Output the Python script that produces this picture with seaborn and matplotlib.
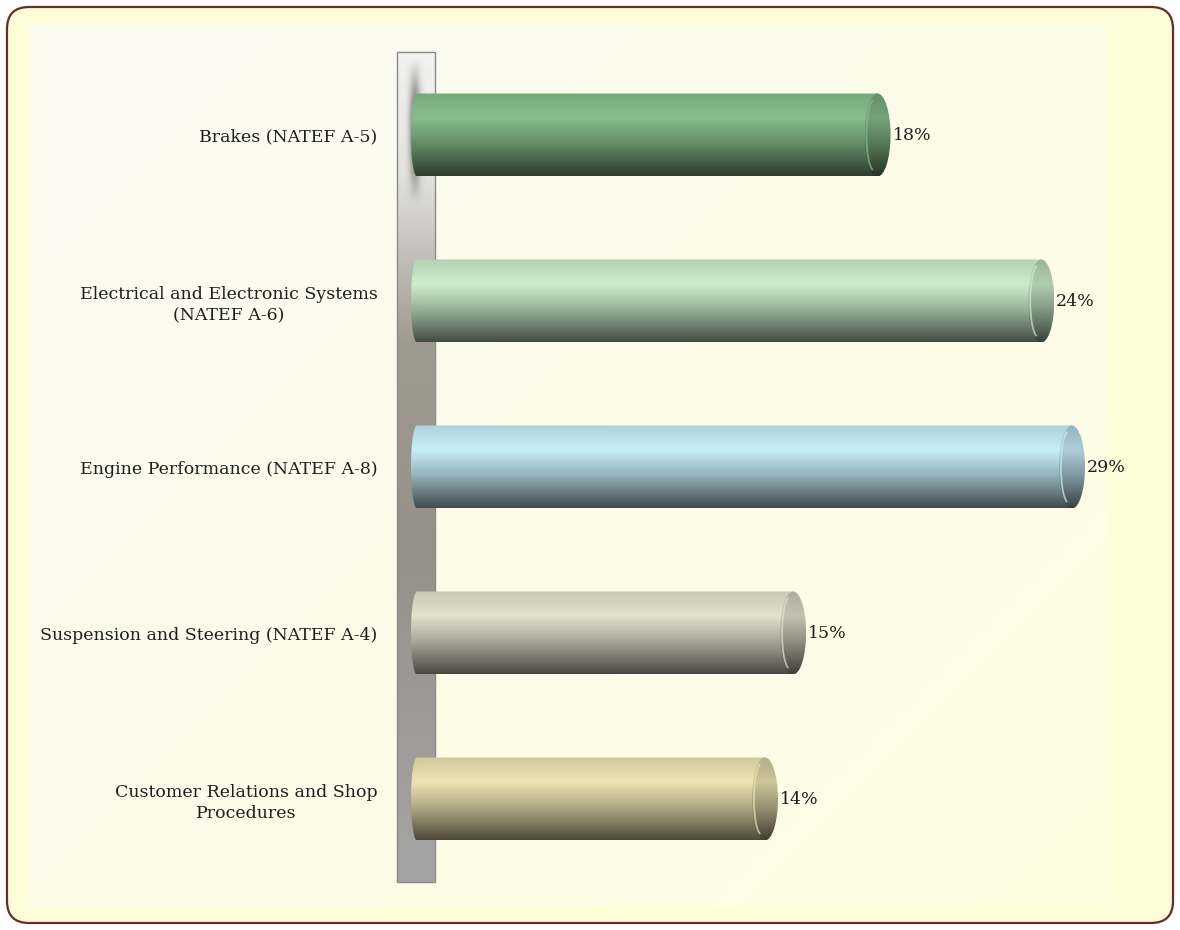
import numpy as np
import matplotlib
matplotlib.use("Agg")
from matplotlib import pyplot as plt
from matplotlib.patches import FancyBboxPatch, Rectangle, Ellipse, PathPatch, Arc
from matplotlib.path import Path
import seaborn as sns

# Datos del gráfico (de arriba a abajo)
categorias = [
    "Brakes (NATEF A-5)",
    "Electrical and Electronic Systems\n(NATEF A-6)",
    "Engine Performance (NATEF A-8)",
    "Suspension and Steering (NATEF A-4)",
    "Customer Relations and Shop\nProcedures",
]
porcentajes = [18.0, 24.4, 29.0, 14.7, 13.6]

# color de brillo de cada cilindro
colores = ["#87be8c", "#cdeecd", "#c8eefa", "#e4e1cd", "#eee4b2"]

X_MAX = 25.6  # el eje corta la barra más larga, como en el original

sns.set_style("white")
plt.rcParams["font.family"] = ["DejaVu Serif"]

fig = plt.figure(figsize=(11.8, 9.3), dpi=100)
fig.patch.set_facecolor("white")

# Fondo: todo en píxeles
bg = fig.add_axes([0, 0, 1, 1], zorder=-1)
bg.set_xlim(0, 1180)
bg.set_ylim(930, 0)
bg.axis("off")

marco = FancyBboxPatch((7, 7), 1166, 916, boxstyle="round,pad=0,rounding_size=22",
                       facecolor="#fffdd8", edgecolor="#6b2a2a", linewidth=1.6, zorder=0)
bg.add_patch(marco)

# degradado del área interior
gy, gx = np.mgrid[0:1:200j, 0:1:200j]
t = np.clip(0.55 * gx + 0.45 * gy, 0, 1)[..., None]
c1 = np.array([250, 250, 242]) / 255
c2 = np.array([255, 254, 226]) / 255
img = c1 * (1 - t) + c2 * t
bg.imshow(img, extent=(30, 1106, 906, 26), origin="upper", aspect="auto", zorder=1)

# pared izquierda
pos = [0.0, 0.15, 0.35, 0.6, 1.0]
cols = np.array([[242, 242, 240], [226, 226, 222], [160, 154, 144], [150, 145, 136], [165, 165, 165]]) / 255
yy = np.linspace(0, 1, 300)
pared = np.stack([np.interp(yy, pos, cols[:, k]) for k in range(3)], axis=-1)[:, None, :]
bg.imshow(pared, extent=(397, 435, 882, 52), origin="upper", aspect="auto", zorder=2)
bg.add_patch(Rectangle((397, 52), 38, 830, facecolor="none", edgecolor="#8a8a8a", linewidth=1, zorder=3))

# sombra oscura junto a la primera barra
sy, sx = np.mgrid[0:1:200j, 0:1:60j]
alfa = np.exp(-((sx - 0.5) / 0.25) ** 2) * np.clip(np.sin(np.pi * sy), 0, 1) ** 1.2 * 0.8
sombra = np.zeros((200, 60, 4))
sombra[..., :3] = 0.3
sombra[..., 3] = alfa
bg.imshow(sombra, extent=(404, 426, 205, 58), origin="upper", aspect="auto", zorder=3)

# Eje principal
ax = fig.add_axes([397 / 1180, 48 / 930, 675 / 1180, 830 / 930])
ax.set_facecolor("none")
sns.barplot(x=porcentajes, y=categorias, hue=categorias, palette=colores, orient="h",
            width=0.5, legend=False, ax=ax)

ax.set_xlim(-20 / 25.59, X_MAX)
ax.set_ylim(4.5, -0.5)

px = 675 / (X_MAX + 20 / 25.59)  # píxeles por unidad
a = 13 / px  # medio ancho de la tapa
a_izq = 6 / px


def mezcla(c, f):
    c = np.array(matplotlib.colors.to_rgb(c))
    return c * (1 - f)


def degradado(c, oscuro=0.0):
    p = [0.0, 0.3, 0.6, 1.0]
    st = np.array([mezcla(c, 0.12), mezcla(c, 0.0), mezcla(c, 0.25), mezcla(c, 0.68)])
    st = st * (1 - oscuro)
    y = np.linspace(0, 1, 200)
    return np.stack([np.interp(y, p, st[:, k]) for k in range(3)], axis=-1)[:, None, :]


for i, barra in enumerate(ax.patches):
    barra.set_visible(False)
    y0 = barra.get_y()
    h = barra.get_height()
    yc = y0 + h / 2
    L = min(barra.get_width(), X_MAX)
    col = colores[i]

    # cuerpo del cilindro con el extremo izquierdo redondeado
    tt = np.linspace(np.pi / 2, 3 * np.pi / 2, 40)
    verts = np.vstack([[0, y0], [L, y0], [L, y0 + h], [0, y0 + h],
                       np.column_stack([a_izq * np.cos(tt), yc + h / 2 * np.sin(tt)])[::-1]])
    cuerpo = PathPatch(Path(verts), facecolor="none", edgecolor="none", transform=ax.transData)
    ax.add_patch(cuerpo)
    im = ax.imshow(degradado(col), extent=(-a_izq, L, y0 + h, y0), origin="upper",
                   aspect="auto", zorder=3)
    im.set_clip_path(cuerpo)

    # tapa
    tapa = Ellipse((L, yc), 2 * a, h, facecolor="none", edgecolor="none")
    tapa.set_clip_on(False)
    ax.add_patch(tapa)
    imt = ax.imshow(degradado(col, 0.14), extent=(L - a, L + a, y0 + h, y0), origin="upper",
                    aspect="auto", zorder=4)
    imt.set_clip_path(tapa)
    imt.set_clip_box(fig.bbox)
    brillo = Arc((L - 0.25 * a, yc), 1.2 * a, h * 0.86, theta1=105, theta2=255,
                 edgecolor=tuple(np.array(matplotlib.colors.to_rgb(col)) * 1.0),
                 linewidth=1.3, alpha=0.7, zorder=5, clip_on=False)
    ax.add_patch(brillo)

    ax.text(L + a + 2 / px, yc, f"{barra.get_width():.0f}%", va="center", ha="left",
            fontsize=12.5, color="#1e1e1e", clip_on=False, zorder=6)

ax.set_xlim(-20 / 25.59, X_MAX)
ax.set_ylim(4.5, -0.5)

ax.set_yticks(range(len(categorias)))
ax.set_yticklabels(categorias, fontsize=12.5, color="#1e1e1e", multialignment="center",
                   linespacing=1.3)
ax.set_yticks(np.arange(-0.5, len(categorias), 1), minor=True)
ax.tick_params(axis="y", which="major", length=0, pad=14)
ax.tick_params(axis="y", which="minor", length=5, color="#8a8a8a", width=1, direction="out")
ax.xaxis.set_visible(False)
ax.set_ylabel("")
for s in ["top", "right", "bottom", "left"]:
    ax.spines[s].set_visible(False)

fig.savefig("out.png", dpi=100)
